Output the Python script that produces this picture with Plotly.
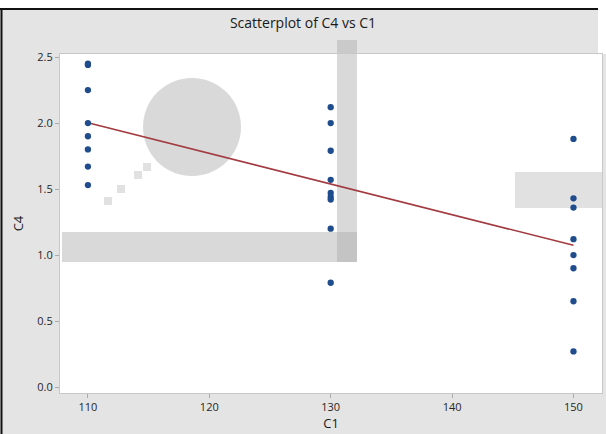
import numpy as np
import plotly.graph_objects as go

# Observations: response C4 at three levels of C1
c1_levels = [110, 130, 150]
c4_at_110 = [2.45, 2.44, 2.25, 2.00, 1.90, 1.80, 1.67, 1.53]
c4_at_130 = [2.12, 2.00, 1.79, 1.57, 1.47, 1.44, 1.42, 1.20, 0.79]
c4_at_150 = [1.88, 1.43, 1.36, 1.12, 1.00, 0.90, 0.65, 0.27]

x_ticks = [110, 120, 130, 140, 150]
y_ticks = [0.0, 0.5, 1.0, 1.5, 2.0, 2.5]

groups = [c4_at_110, c4_at_130, c4_at_150]
x = np.concatenate([[lvl] * len(g) for lvl, g in zip(c1_levels, groups)]).astype(float)
y = np.concatenate(groups)

# least-squares fit line over the C1 span
slope, intercept = np.polyfit(x, y, 1)
fit_x = np.array([min(c1_levels), max(c1_levels)], dtype=float)
fit_y = intercept + slope * fit_x

W, H = 606, 434
L, R, T, B = 60, 4, 54, 41
PW, PH = W - L - R, H - T - B


def px(X):
    return (X - L) / PW


def py(Y):
    return (H - B - Y) / PH


fig = go.Figure()
fig.add_trace(go.Scatter(
    x=fit_x, y=fit_y, mode="lines",
    line=dict(color="#a23a40", width=1.6),
    hoverinfo="skip", showlegend=False,
))
fig.add_trace(go.Scatter(
    x=x, y=y, mode="markers",
    marker=dict(color="#1f4c8c", size=6.3, symbol="circle"),
    showlegend=False,
))

shapes = []
# white strips outside the grey frame
shapes.append(dict(type="rect", xref="paper", yref="paper", layer="below",
                   x0=px(-5), x1=px(W + 5), y0=py(8), y1=py(-5),
                   fillcolor="white", line=dict(width=0)))
shapes.append(dict(type="rect", xref="paper", yref="paper", layer="below",
                   x0=px(598), x1=px(W + 5), y0=py(T), y1=py(-5),
                   fillcolor="white", line=dict(width=0)))
# black frame edges (top and left)
shapes.append(dict(type="line", xref="paper", yref="paper", layer="above",
                   x0=px(0), x1=px(598), y0=py(9), y1=py(9),
                   line=dict(color="#111111", width=2)))
shapes.append(dict(type="line", xref="paper", yref="paper", layer="above",
                   x0=px(1.5), x1=px(1.5), y0=py(9), y1=py(H + 5),
                   line=dict(color="#111111", width=2)))

# faint background emblem
grey = "rgba(170,170,170,0.45)"
shapes.append(dict(type="circle", xref="paper", yref="paper", layer="below",
                   x0=px(143), x1=px(241), y0=py(176), y1=py(78),
                   fillcolor=grey, line=dict(width=0)))
for (cx, cy) in [(147, 167), (138, 175), (121, 189), (108, 201)]:
    shapes.append(dict(type="rect", xref="paper", yref="paper", layer="below",
                       x0=px(cx - 4), x1=px(cx + 4), y0=py(cy + 4), y1=py(cy - 4),
                       fillcolor="rgba(170,170,170,0.35)", line=dict(width=0)))
shapes.append(dict(type="rect", xref="paper", yref="paper", layer="below",
                   x0=px(62), x1=px(357), y0=py(262), y1=py(232),
                   fillcolor=grey, line=dict(width=0)))
shapes.append(dict(type="rect", xref="paper", yref="paper", layer="below",
                   x0=px(337), x1=px(357), y0=py(262), y1=py(40),
                   fillcolor=grey, line=dict(width=0)))
shapes.append(dict(type="rect", xref="paper", yref="paper", layer="below",
                   x0=px(515), x1=px(602), y0=py(208), y1=py(172),
                   fillcolor="rgba(170,170,170,0.35)", line=dict(width=0)))

fig.update_layout(
    width=W, height=H,
    margin=dict(l=L, r=R, t=T, b=B, pad=0),
    paper_bgcolor="#e4e4e4",
    plot_bgcolor="white",
    font=dict(family="Open Sans, Noto Sans, sans-serif", color="#262626", size=11),
    title=dict(text="Scatterplot of C4 vs C1", x=0.5, xref="container", xanchor="center",
               y=1 - 23 / H, yref="container", yanchor="middle",
               font=dict(size=14, color="#1a1a1a")),
    shapes=shapes,
    showlegend=False,
)
fig.update_xaxes(
    range=[107.7, 152.35], tickvals=x_ticks, ticks="outside", ticklen=4,
    tickcolor="#aaaaaa", showgrid=False, zeroline=False,
    showline=True, linecolor="#c8c8c8", linewidth=1, mirror=True,
    tickfont=dict(color="#262626", size=11),
    title=dict(text="C1", font=dict(size=13, color="#1a1a1a"), standoff=4),
)
fig.update_yaxes(
    range=[-0.045, 2.523], tickvals=y_ticks, tickformat=".1f", ticks="outside",
    ticklen=4, tickcolor="#aaaaaa", showgrid=False, zeroline=False,
    showline=True, linecolor="#c8c8c8", linewidth=1, mirror=True,
    tickfont=dict(color="#262626", size=11),
    title=dict(text="C4", font=dict(size=13, color="#1a1a1a"), standoff=10),
)

fig.write_html("out.html")
